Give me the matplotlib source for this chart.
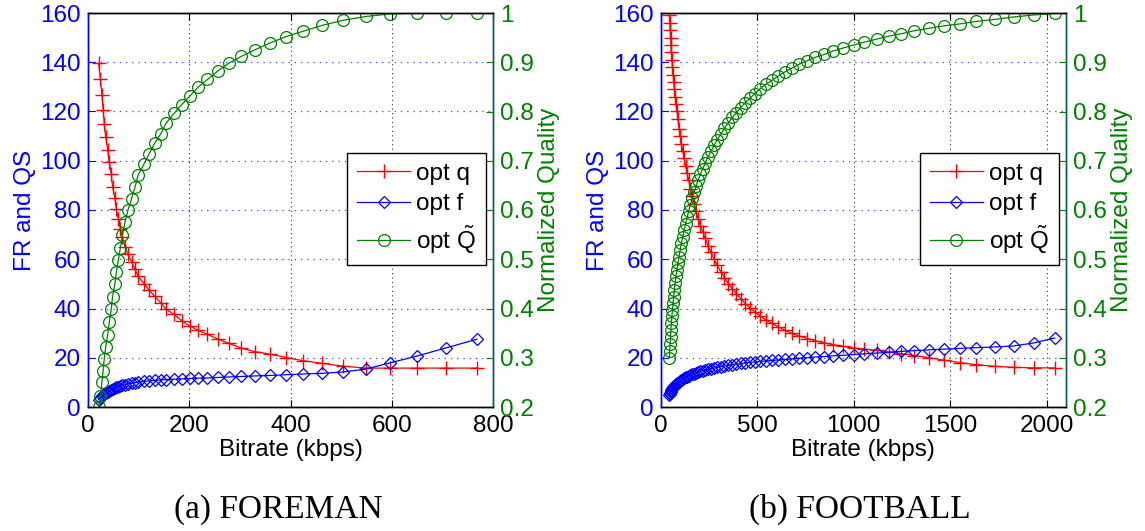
import matplotlib
matplotlib.use("Agg")
import matplotlib.pyplot as plt
from matplotlib.lines import Line2D

plt.rcParams['font.family'] = ['Liberation Sans', 'DejaVu Sans']
plt.rcParams['mathtext.fontset'] = 'custom'
plt.rcParams['mathtext.rm'] = 'Liberation Sans'
plt.rcParams['mathtext.it'] = 'Liberation Sans'

# ---------------- data: (a) FOREMAN ----------------
foreman_bitrate = [21, 24.6, 27.4, 30, 32, 35, 39, 42, 46, 48.5, 53, 56, 60, 64, 68, 73,
                   79, 86, 93, 99, 111, 120, 132, 144, 154, 170, 185, 202, 217, 236, 256,
                   278, 303, 329, 359, 391, 425, 463, 503, 549, 596, 650, 707, 768]
foreman_q = [139.6, 133.1, 126.9, 120.8, 115.1, 109.7, 104.3, 99.3, 94.5, 89.5, 85, 80.4,
             76.4, 72.2, 68.9, 65.1, 62, 59, 55.9, 53, 50, 47.6, 44.9, 42.2, 39.7, 37.6,
             35.0, 32.8, 31.2, 29.5, 27.6, 25.9, 23.9, 22.5, 21.5, 20.1, 18.8, 17.7, 16.6,
             15.8, 15.8, 15.8, 15.8, 15.8]
foreman_f = [3, 3.7, 4.3, 4.8, 5.2, 5.7, 6.2, 6.6, 7, 7.3, 7.7, 8, 8.3, 8.6, 8.8, 9.1,
             9.4, 9.6, 9.9, 10.1, 10.4, 10.6, 10.8, 11, 11.1, 11.3, 11.4, 11.6, 11.7, 11.8,
             12, 12.2, 12.4, 12.6, 12.8, 13.1, 13.4, 13.7, 14.2, 15.4, 17.9, 20.7, 24.0, 27.5]
foreman_Q = [0.20, 0.222, 0.25, 0.274, 0.297, 0.322, 0.347, 0.372, 0.399, 0.424, 0.449,
             0.474, 0.499, 0.523, 0.549, 0.575, 0.6, 0.623, 0.647, 0.671, 0.694, 0.713,
             0.736, 0.755, 0.776, 0.796, 0.814, 0.832, 0.849, 0.865, 0.882, 0.898, 0.912,
             0.925, 0.939, 0.952, 0.963, 0.975, 0.985, 0.993, 0.998, 1.0, 1.0, 1.0]

# ---------------- data: (b) FOOTBALL ----------------
football_bitrate = [46, 48, 50, 52, 54, 56, 59, 62, 65, 68, 72, 76, 80, 85, 90, 96, 102,
                    108, 115, 122, 130, 138, 146, 155, 164, 174, 184, 195, 207, 219, 232,
                    246, 261, 277, 294, 312, 331, 351, 372, 393, 415, 439, 463, 488, 515,
                    545, 576, 609, 643, 680, 718, 759, 801, 849, 895, 947, 1000, 1056,
                    1120, 1182, 1248, 1315, 1392, 1469, 1553, 1636, 1732, 1829, 1932, 2041]
football_q = [159, 156, 153, 150, 147, 144, 141, 138, 135, 132, 129, 126, 123, 120, 117,
              113, 110, 107, 104, 101, 98, 95, 92, 88.5, 85.5, 82.5, 79.5, 76.5, 73.5, 71,
              68.5, 65.5, 63, 60, 57.5, 55, 52.5, 50, 48, 46, 44, 42, 40.3, 38.6, 37, 35.4,
              34, 32.6, 31.2, 29.9, 28.8, 27.8, 26.9, 26.0, 25.3, 24.6, 24.0, 23.5, 23.0,
              22.4, 21.7, 20.9, 20.0, 19.0, 18.0, 17.2, 16.5, 16.1, 15.9, 15.9]
football_f = [5, 5.4, 5.8, 6.2, 6.6, 7.0, 7.3, 7.7, 8.0, 8.3, 8.6, 9.0, 9.3, 9.6, 9.9,
              10.3, 10.6, 10.9, 11.3, 11.6, 12.0, 12.3, 12.7, 13.0, 13.3, 13.6, 13.9, 14.2,
              14.5, 14.8, 15.0, 15.3, 15.6, 15.8, 16.1, 16.4, 16.7, 16.9, 17.2, 17.4, 17.7,
              17.9, 18.1, 18.3, 18.5, 18.7, 18.9, 19.1, 19.3, 19.5, 19.8, 20.0, 20.3, 20.5,
              20.8, 21.0, 21.3, 21.6, 21.9, 22.2, 22.6, 22.9, 23.2, 23.5, 23.8, 24.1, 24.4,
              24.8, 26.0, 28.0]
football_Q = [0.300, 0.314, 0.328, 0.342, 0.356, 0.370, 0.384, 0.397, 0.411, 0.424, 0.438,
              0.451, 0.465, 0.478, 0.492, 0.505, 0.519, 0.532, 0.546, 0.559, 0.572, 0.585,
              0.598, 0.611, 0.624, 0.636, 0.649, 0.661, 0.673, 0.684, 0.696, 0.708, 0.719,
              0.731, 0.743, 0.754, 0.766, 0.777, 0.788, 0.797, 0.808, 0.818, 0.827, 0.836,
              0.846, 0.855, 0.863, 0.872, 0.880, 0.888, 0.896, 0.903, 0.910, 0.916, 0.923,
              0.929, 0.935, 0.941, 0.947, 0.953, 0.958, 0.964, 0.969, 0.974, 0.978, 0.983,
              0.987, 0.992, 0.996, 0.999]

left_yticks = [0, 20, 40, 60, 80, 100, 120, 140, 160]
right_yticks = [0.2, 0.3, 0.4, 0.5, 0.6, 0.7, 0.8, 0.9, 1.0]
right_ytick_labels = ['0.2', '0.3', '0.4', '0.5', '0.6', '0.7', '0.8', '0.9', '1']
legend_labels = ['opt q', 'opt f', r'opt $\tilde{\mathrm{Q}}$']

panels = [
    dict(x=foreman_bitrate, q=foreman_q, f=foreman_f, Q=foreman_Q,
         xlim=(0, 800), xticks=[0, 200, 400, 600, 800], caption='(a) FOREMAN',
         rect=[88/1145, 1-407/531, 405/1145, 394/531], cap_x=278/1145),
    dict(x=football_bitrate, q=football_q, f=football_f, Q=football_Q,
         xlim=(0, 2100), xticks=[0, 500, 1000, 1500, 2000], caption='(b) FOOTBALL',
         rect=[660.5/1145, 1-407/531, 405.5/1145, 394/531], cap_x=860/1145),
]

RED = '#ff0000'
BLUE = '#0000ff'
GREEN = '#008000'
FS = 17.5

q_style = dict(color=RED, marker='+', markersize=10, mew=1.0, lw=0.9)
f_style = dict(color=BLUE, marker='D', markersize=6.5, mfc='none', mew=0.9, lw=0.9)
Q_style = dict(color=GREEN, marker='o', markersize=8.5, mfc='none', mew=0.9, lw=0.9)

fig = plt.figure(figsize=(11.45, 5.31), dpi=100)

for p in panels:
    ax = fig.add_axes(p['rect'])
    ax2 = ax.twinx()
    ax.plot(p['x'], p['q'], **q_style)
    ax.plot(p['x'], p['f'], **f_style)
    ax2.plot(p['x'], p['Q'], **Q_style)

    ax.set_xlim(*p['xlim'])
    ax.set_ylim(0, 160)
    ax2.set_ylim(0.2, 1.0)
    ax.set_xticks(p['xticks'])
    ax.set_yticks(left_yticks)
    ax2.set_yticks(right_yticks)
    ax2.set_yticklabels(right_ytick_labels)

    ax.xaxis.grid(True, linestyle=(0, (1, 3)), color='#303030', lw=0.8)
    ax.yaxis.grid(True, linestyle=(0, (1, 4)), color='#4040ff', lw=0.9)
    ax.set_axisbelow(True)

    ax.tick_params(axis='x', direction='in', top=True, length=5, colors='black',
                   labelsize=FS, pad=6)
    ax.tick_params(axis='y', direction='in', length=5, colors=BLUE, labelsize=FS, pad=5)
    ax2.tick_params(axis='y', direction='in', length=5, colors=GREEN, labelsize=FS, pad=5)

    for a in (ax, ax2):
        a.spines['top'].set_color('black')
        a.spines['bottom'].set_color('black')
        a.spines['left'].set_color(BLUE)
        a.spines['right'].set_color('#0a5a5a')
        for s in a.spines.values():
            s.set_linewidth(1.0)

    ax.set_xlabel('Bitrate (kbps)', fontsize=FS, labelpad=1)
    ax.set_ylabel('FR and QS', fontsize=FS, color=BLUE, labelpad=3)
    ax2.set_ylabel('Normalized Quality', fontsize=FS, color=GREEN, labelpad=3)

    handles = [Line2D([], [], **q_style), Line2D([], [], **f_style), Line2D([], [], **Q_style)]
    leg = ax2.legend(handles, legend_labels, loc='upper right',
                     bbox_to_anchor=(0.983, 0.645), borderaxespad=0, fontsize=FS,
                     fancybox=False, framealpha=1, edgecolor='black',
                     handlelength=2.2, handletextpad=0.25, labelspacing=0.35,
                     borderpad=0.4)
    leg.get_frame().set_linewidth(1.0)

    fig.text(p['cap_x'], 0.04, p['caption'], ha='center', va='center', fontsize=24,
             family=['Liberation Serif', 'DejaVu Serif'])

fig.savefig('out.png', dpi=100)
